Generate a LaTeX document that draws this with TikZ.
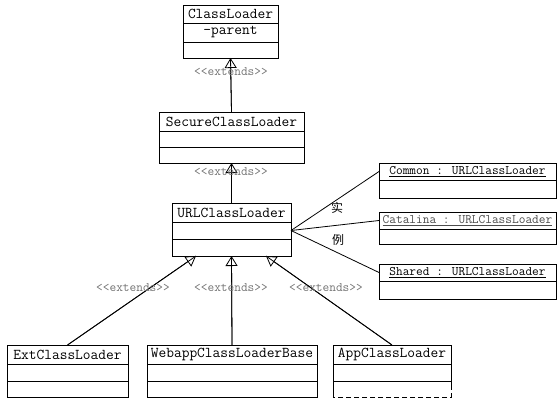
\documentclass[tikz,border=0pt]{standalone}
\usepackage{fontspec}
\newfontfamily\cjk{Noto Sans CJK SC}
\usetikzlibrary{arrows.meta,calc}
\begin{document}
\begin{tikzpicture}[x=1pt,y=-1pt,
  cls/.style={draw, line width=0.8pt, inner sep=0pt, outer sep=0pt, anchor=north, minimum width=#1},
  ct/.style={font=\fontsize{15}{15}\selectfont\ttfamily},
  it/.style={font=\fontsize{13}{13}\selectfont\ttfamily},
  extlbl/.style={font=\fontsize{13}{13}\selectfont\ttfamily, text=black!55, inner sep=0pt},
  cjklbl/.style={font=\cjk\fontsize{12}{12}\selectfont, inner sep=0pt},
  link/.style={line width=0.8pt},
  inh/.style={line width=0.8pt, -{Triangle[open, length=10pt, width=12pt, line width=0.8pt]}}]
\path[use as bounding box] (0,0) rectangle (559,400);

% ClassLoader
\node[cls=95pt, minimum height=18pt, ct] (cl) at (230.5,5) {ClassLoader};
\node[cls=95pt, minimum height=19pt, ct] (clA) at (cl.south) {-parent};
\node[cls=95pt, minimum height=16pt] (clM) at (clA.south) {};

% SecureClassLoader
\node[cls=145pt, minimum height=19pt, ct] (sec) at (231.5,112) {SecureClassLoader};
\node[cls=145pt, minimum height=16pt] (secA) at (sec.south) {};
\node[cls=145pt, minimum height=16pt] (secM) at (secA.south) {};

% URLClassLoader
\node[cls=119pt, minimum height=19pt, ct] (url) at (231.5,203) {URLClassLoader};
\node[cls=119pt, minimum height=17pt] (urlA) at (url.south) {};
\node[cls=119pt, minimum height=17pt] (urlM) at (urlA.south) {};

% bottom classes
\node[cls=121pt, minimum height=19pt, ct] (ext) at (67.5,345) {ExtClassLoader};
\node[cls=121pt, minimum height=17pt] (extA) at (ext.south) {};
\node[cls=121pt, minimum height=16pt] (extM) at (extA.south) {};

\node[cls=170pt, minimum height=19pt, ct] (web) at (232,345) {WebappClassLoaderBase};
\node[cls=170pt, minimum height=17pt] (webA) at (web.south) {};
\node[cls=170pt, minimum height=16pt] (webM) at (webA.south) {};

\node[cls=118pt, minimum height=19pt, ct] (app) at (392,345) {AppClassLoader};
\node[cls=118pt, minimum height=17pt] (appA) at (app.south) {};
\node[inner sep=0pt, outer sep=0pt, anchor=north, minimum width=118pt, minimum height=16pt] (appM) at (appA.south) {};
\draw[link] (appM.north west) -- (appM.south west);
\draw[link] (appM.north east) -- ($(appM.north east)+(0,4)$);
\draw[link, dash pattern=on 5pt off 3pt] ($(appM.north east)+(0,4)$) -- (appM.south east) -- (appM.south west);

% instances
\node[cls=177pt, minimum height=17pt, it] (com) at (467.5,163) {\underline{Common : URLClassLoader}};
\node[cls=177pt, minimum height=18pt] (comA) at (com.south) {};
\node[cls=177pt, minimum height=17pt, it, text=black!70] (cat) at (467.5,212) {\underline{Catalina : URLClassLoader}};
\node[cls=177pt, minimum height=15pt] (catA) at (cat.south) {};
\node[cls=177pt, minimum height=17pt, it] (sha) at (467.5,264) {\underline{Shared : URLClassLoader}};
\node[cls=177pt, minimum height=18pt] (shaA) at (sha.south) {};

% inheritance connectors
\draw[link] (sec.north) -- (clM.south);
\draw[inh] (sec.north) -- (clM.south);
\draw[link] (url.north) -- (secM.south);
\draw[inh] (url.north) -- (secM.south);
\coordinate (aL) at ($(urlM.south)+(-35.5,0)$);
\coordinate (aR) at ($(urlM.south)+(34.5,0)$);
\draw[link] (ext.north) -- (aL);
\draw[inh] (ext.north) -- (aL);
\draw[link] (web.north) -- (urlM.south);
\draw[inh] (web.north) -- (urlM.south);
\draw[link] (app.north) -- (aR);
\draw[inh] (app.north) -- (aR);

% instance connectors
\draw[link] (urlA.east) -- (com.west);
\draw[link] (urlA.east) -- (cat.west);
\draw[link] (urlA.east) -- (sha.west);

% labels
\node[extlbl] (e1) at (231,72) {{<}{<}extends{>}{>}};
\node[extlbl] (e2) at (231,172) {{<}{<}extends{>}{>}};
\node[extlbl] (e3) at (133,288) {{<}{<}extends{>}{>}};
\node[extlbl] (e4) at (231,288) {{<}{<}extends{>}{>}};
\node[extlbl] (e5) at (326,288) {{<}{<}extends{>}{>}};
\node[cjklbl] (shi) at (337,208) {实};
\node[cjklbl] (li) at (338,240) {例};
\end{tikzpicture}
\end{document}
